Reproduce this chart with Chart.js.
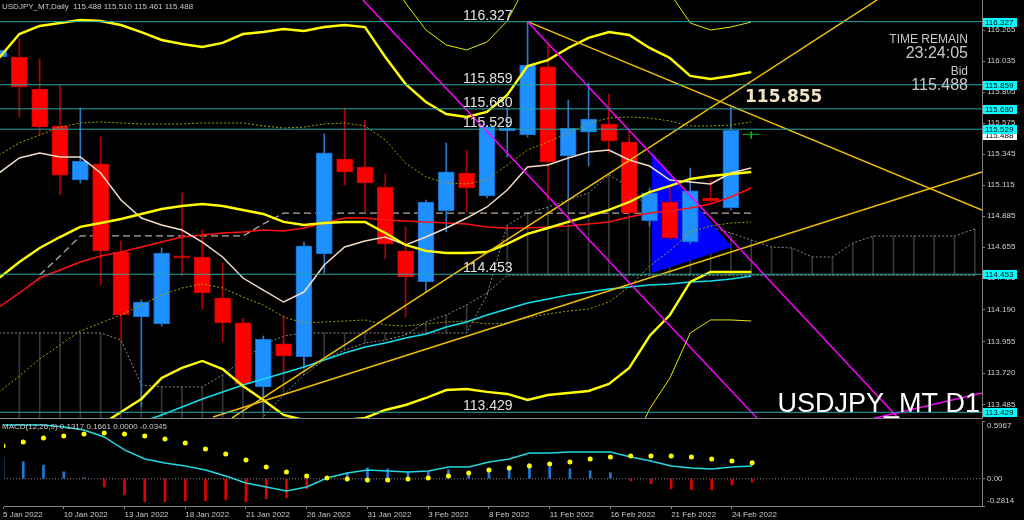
<!DOCTYPE html>
<html>
<head>
<meta charset="utf-8">
<script src="https://cdn.jsdelivr.net/npm/chart.js@4.4.1/dist/chart.umd.min.js"></script>
<style>
  html, body { margin: 0; padding: 0; background: #000; }
  body { width: 1024px; height: 520px; position: relative; overflow: hidden; }
  canvas { position: absolute; left: 0; }
  #main { top: 0; width: 1024px; height: 419px; }
  #macd { top: 415px; width: 1024px; height: 105px; }
</style>
</head>
<body>
<canvas id="main" width="1024" height="419"></canvas>
<canvas id="macd" width="1024" height="105"></canvas>
<script>
const FONT = '"Liberation Sans", Arial, sans-serif';

// bars, one per trading day (the last one is the just-opened 25 Feb bar)
const dates = ['5 Jan 2022','6 Jan 2022','7 Jan 2022','10 Jan 2022','11 Jan 2022','12 Jan 2022','13 Jan 2022','14 Jan 2022',
  '17 Jan 2022','18 Jan 2022','19 Jan 2022','20 Jan 2022','21 Jan 2022','24 Jan 2022','25 Jan 2022','26 Jan 2022',
  '27 Jan 2022','28 Jan 2022','31 Jan 2022','1 Feb 2022','2 Feb 2022','3 Feb 2022','4 Feb 2022','7 Feb 2022',
  '8 Feb 2022','9 Feb 2022','10 Feb 2022','11 Feb 2022','14 Feb 2022','15 Feb 2022','16 Feb 2022','17 Feb 2022',
  '18 Feb 2022','21 Feb 2022','22 Feb 2022','23 Feb 2022','24 Feb 2022','25 Feb 2022'];
const tickDates = ['5 Jan 2022','10 Jan 2022','13 Jan 2022','18 Jan 2022','21 Jan 2022','26 Jan 2022','31 Jan 2022',
  '3 Feb 2022','8 Feb 2022','11 Feb 2022','16 Feb 2022','21 Feb 2022','24 Feb 2022'];

const opens  = [116.065,116.065,115.827,115.553,115.152,115.271,114.618,114.136,114.084,114.589,114.581,114.277,114.092,113.617,113.936,113.839,114.603,115.308,115.249,115.100,114.626,114.396,114.922,115.204,115.034,115.516,115.486,115.991,115.330,115.508,115.568,115.434,114.848,114.989,114.692,115.019,114.945,115.488];
const highs  = [116.146,116.198,116.050,115.857,115.686,115.471,114.700,114.262,114.648,115.056,114.781,114.537,114.128,113.995,114.151,114.692,115.494,115.686,115.597,115.197,114.804,115.004,115.427,115.375,115.560,115.686,116.327,116.176,115.746,115.872,115.790,115.523,115.093,115.100,115.241,115.152,115.694,115.510];
const lows   = [116.042,115.620,115.486,115.041,115.130,114.373,113.965,113.470,114.069,114.440,114.195,113.951,113.624,113.429,113.728,113.765,114.462,115.115,114.915,114.566,114.136,114.321,114.767,114.915,115.019,115.323,115.471,115.004,115.004,115.256,115.353,114.893,114.811,114.707,114.678,114.982,114.930,115.461];
const closes = [116.117,115.842,115.546,115.189,115.293,114.626,114.151,114.247,114.611,114.574,114.314,114.092,113.639,113.973,113.847,114.663,115.353,115.212,115.130,114.678,114.433,114.989,115.212,115.093,115.546,115.538,116.005,115.286,115.538,115.605,115.442,114.908,115.056,114.722,115.071,114.997,115.520,115.488];

// moving averages
const ma5   = [115.204,115.316,115.353,115.323,115.323,115.204,115.004,114.870,114.818,114.781,114.692,114.581,114.425,114.336,114.247,114.321,114.522,114.655,114.700,114.729,114.670,114.729,114.796,114.870,114.952,115.078,115.249,115.264,115.316,115.360,115.375,115.301,115.256,115.152,115.137,115.123,115.204,115.241];
const maRed = [114.210,114.314,114.425,114.485,114.544,114.588,114.618,114.655,114.692,114.729,114.744,114.759,114.767,114.781,114.774,114.796,114.833,114.870,114.870,114.856,114.848,114.841,114.833,114.826,114.804,114.796,114.796,114.804,114.811,114.826,114.841,114.878,114.908,114.922,114.945,114.974,115.026,115.093];
const maLongStart = 7;
const maLong = [113.357,113.409,113.468,113.527,113.579,113.631,113.676,113.720,113.765,113.817,113.869,113.913,113.943,113.980,114.010,114.062,114.099,114.151,114.195,114.240,114.269,114.299,114.321,114.344,114.358,114.373,114.381,114.396,114.403,114.418,114.440];

// bollinger bands
const bbMid = [114.425,114.544,114.648,114.729,114.804,114.833,114.863,114.900,114.937,114.959,114.974,114.959,114.930,114.900,114.841,114.818,114.833,114.841,114.841,114.759,114.670,114.626,114.611,114.611,114.618,114.678,114.752,114.796,114.841,114.885,114.930,114.989,115.063,115.108,115.160,115.182,115.197,115.212];
const bbUp1 = [115.338,115.427,115.486,115.545,115.575,115.583,115.575,115.568,115.568,115.568,115.575,115.575,115.575,115.553,115.538,115.545,115.568,115.575,115.553,115.449,115.278,115.175,115.130,115.123,115.152,115.264,115.375,115.434,115.501,115.575,115.612,115.620,115.612,115.590,115.553,115.553,115.560,115.583];
const bbLo1 = [113.580,113.698,113.824,113.928,114.032,114.091,114.151,114.225,114.299,114.351,114.381,114.351,114.284,114.225,114.136,114.091,114.099,114.106,114.114,114.077,114.069,114.084,114.099,114.106,114.084,114.091,114.129,114.158,114.180,114.195,114.247,114.359,114.514,114.626,114.767,114.811,114.833,114.841];
const bbUp2 = [116.057,116.235,116.295,116.317,116.339,116.332,116.302,116.250,116.191,116.161,116.139,116.169,116.235,116.250,116.272,116.258,116.287,116.302,116.287,116.065,115.864,115.731,115.642,115.620,115.657,115.783,115.998,116.042,116.132,116.206,116.250,116.228,116.132,116.057,115.924,115.902,115.924,115.953];
const bbLo2 = [null,null,null,null,113.268,113.335,113.431,113.528,113.683,113.758,113.810,113.750,113.624,113.520,113.409,113.372,113.372,113.372,113.387,113.446,113.483,113.535,113.594,113.602,113.580,113.565,113.520,113.557,113.572,113.587,113.639,113.758,113.995,114.151,114.396,114.470,114.470,114.470];
const bbUp3 = [null,null,null,null,null,null,null,null,null,null,null,null,null,null,null,null,null,null,117.007,116.718,116.465,116.265,116.154,116.117,116.176,116.332,116.621,116.666,116.777,116.866,116.910,116.844,116.666,116.540,116.317,116.265,116.287,116.324];
const bbLo3 = [null,null,null,null,null,null,null,null,null,null,null,null,null,null,null,null,null,null,null,null,null,null,null,null,null,null,null,null,null,null,112.949,113.134,113.453,113.683,114.017,114.114,114.114,114.106];

// ichimoku style lines, cloud runs into the future
const kijun = [null,null,114.448,114.588,114.737,114.737,114.737,114.737,114.737,114.737,114.737,114.737,114.737,114.826,114.907,114.907,114.907,114.907,114.907,114.907,114.907,114.907,114.907,114.907,114.907,114.907,114.907,114.907,114.907,114.907,114.907,114.907,114.907,114.907,114.907,114.907,114.907,114.907];
const spanA = [114.017,114.017,114.017,114.017,114.017,114.017,113.965,113.632,113.617,113.617,113.617,113.706,113.817,113.928,113.995,114.017,114.017,114.017,114.017,114.017,114.017,114.017,114.017,114.017,114.299,114.818,114.907,114.952,115.004,115.056,115.189,115.100,114.930,114.878,114.833,114.804,114.759,114.707,114.655,114.648,114.581,114.581,114.685,114.737,114.737,114.737,114.737,114.737,114.789];
const spanB = [113.224,113.224,113.224,113.224,113.224,113.224,113.224,113.224,113.224,113.224,113.224,113.224,113.224,113.394,113.557,113.706,113.817,113.891,113.943,113.965,114.002,114.099,114.151,114.225,114.314,114.445,114.445,114.445,114.445,114.445,114.445,114.445,114.445,114.445,114.445,114.445,114.445,114.445,114.445,114.445,114.445,114.445,114.445,114.445,114.445,114.445,114.445,114.445,114.445];

// drawn objects: horizontal levels, trend lines [bar, price, bar, price], filled triangle
const levels = [116.327, 115.859, 115.680, 115.529, 114.453, 113.429];
const trendMagenta = [[17.90, 116.488, 37.28, 113.387], [26, 116.327, 44.32, 113.372], [42.70, 113.372, 48.35, 113.572]];
const trendGold = [[11.46, 113.387, 43.19, 116.488], [10.53, 113.394, 48.35, 115.212], [26, 116.327, 48.35, 114.930]];
const triX = [32.12, 36.05];
const triTop = [115.353, 114.655];
const triBottom = [114.462, 114.655];
const priceTag = 115.855;
const timeRemain = '23:24:05';

// right axis
const yTicks = [116.265, 116.035, 115.805, 115.575, 115.345, 115.115, 114.885, 114.655, 114.425, 114.190, 113.955, 113.720, 113.485];

// MACD(12,26,9)
const macdMain = [0.556,0.556,0.556,0.535,0.504,0.432,0.298,0.205,0.163,0.132,0.091,0.029,-0.043,-0.085,-0.126,-0.085,0.008,0.060,0.091,0.081,0.070,0.081,0.122,0.122,0.174,0.205,0.267,0.267,0.277,0.277,0.277,0.225,0.184,0.132,0.112,0.101,0.122,0.1317];
const macdSignal = [0.339,0.380,0.421,0.442,0.463,0.473,0.463,0.442,0.411,0.370,0.308,0.256,0.194,0.122,0.070,0.029,0.008,-0.002,-0.012,-0.012,-0.002,0.008,0.029,0.060,0.091,0.112,0.132,0.153,0.174,0.205,0.225,0.236,0.236,0.236,0.225,0.205,0.184,0.1661];
const macdHist = [0.217,0.176,0.140,0.072,0.010,-0.083,-0.165,-0.238,-0.238,-0.227,-0.227,-0.217,-0.238,-0.207,-0.196,-0.103,0.003,0.062,0.114,0.103,0.072,0.072,0.093,0.072,0.103,0.124,0.155,0.124,0.103,0.083,0.062,-0.021,-0.052,-0.103,-0.114,-0.114,-0.062,-0.0345];
const macdTicks = [0.5967, 0, -0.2814];

const X_MIN = 0.049, X_MAX = 48.352;
const Y_MIN = 113.3866, Y_MAX = 116.4876;

const pts = (arr, from = 0) => arr.map((v, i) => v == null ? null : { x: i + from, y: v }).filter(Boolean);
const seg = (s) => [{ x: s[0], y: s[1] }, { x: s[2], y: s[3] }];
const line = (data, color, width, extra) => Object.assign({
  type: 'line', data, borderColor: color, borderWidth: width, pointRadius: 0, tension: 0, fill: false, clip: 0, order: 1
}, extra || {});

const dir = closes.map((c, i) => c > opens[i] ? 1 : c < opens[i] ? -1 : 0);
const bodyFill = dir.map(d => d > 0 ? '#1e90ff' : d < 0 ? '#ff0000' : '#00c000');
const bodyEdge = dir.map(d => d > 0 ? '#1668c4' : d < 0 ? '#d00000' : '#00c000');
const wickColor = dir.map(d => d > 0 ? '#2b78c8' : d < 0 ? '#b40000' : '#00c000');

const mainOverlay = {
  id: 'mainOverlay',
  afterDraw(chart) {
    const { ctx } = chart;
    const y = chart.scales.y;
    const last = closes.length - 1;
    ctx.save();
    ctx.textBaseline = 'alphabetic';
    ctx.textAlign = 'left';
    ctx.fillStyle = '#c8c8c8';
    ctx.font = '8px ' + FONT;
    ctx.fillText('USDJPY_MT,Daily  ' + [opens[last], highs[last], lows[last], closes[last]].map(v => v.toFixed(3)).join(' '), 2, 9);

    ctx.font = '14px ' + FONT;
    ctx.fillStyle = '#e2e2e2';
    levels.forEach(v => ctx.fillText(v.toFixed(3), 463, Math.round(y.getPixelForValue(v)) - 2));

    ctx.font = 'bold 17px "DejaVu Sans", sans-serif';
    ctx.fillStyle = '#f2e2c4';
    ctx.fillText(priceTag.toFixed(3), 745, 102);

    ctx.textAlign = 'right';
    ctx.fillStyle = '#c8c8c8';
    ctx.font = '12px ' + FONT; ctx.fillText('TIME REMAIN', 968, 43);
    ctx.font = '16px ' + FONT; ctx.fillText(timeRemain, 968, 58);
    ctx.font = '12px ' + FONT; ctx.fillText('Bid', 968, 75);
    ctx.font = '16px ' + FONT; ctx.fillText(closes[last].toFixed(3), 968, 90);

    ctx.fillStyle = '#ffffff';
    ctx.font = '27px ' + FONT;
    ctx.fillText('USDJPY_MT D1', 980, 412);

    // price boxes on the right axis
    ctx.textAlign = 'left';
    ctx.textBaseline = 'middle';
    ctx.font = '8px ' + FONT;
    const box = (v, bg) => {
      const py = Math.round(y.getPixelForValue(v));
      ctx.fillStyle = bg;
      ctx.fillRect(983, py - 4, 34, 9);
      ctx.fillStyle = '#000';
      ctx.fillText(v.toFixed(3), 985, py + 0.5);
    };
    box(closes[last], '#ffffff');
    levels.forEach(v => box(v, '#00ffff'));
    ctx.restore();
  }
};

const macdOverlay = {
  id: 'macdOverlay',
  afterDraw(chart) {
    const { ctx } = chart;
    const last = macdMain.length - 1;
    ctx.save();
    ctx.font = '8px ' + FONT;
    ctx.fillStyle = '#c8c8c8';
    ctx.textAlign = 'left';
    ctx.fillText('MACD(12,26,9) ' + [macdMain[last], macdSignal[last], 0, macdHist[last]].map(v => v.toFixed(4)).join(' '), 2, 14);
    ctx.restore();
  }
};

// top and bottom MACD labels sit inside the pane, as in the terminal
const macdLabel = (v) => {
  const txt = v === 0 ? '0.00' : v.toFixed(4);
  if (v === macdTicks[0]) return ['', txt];
  if (v === macdTicks[2]) return [txt, ''];
  return txt;
};

const common = {
  responsive: false,
  animation: false,
  devicePixelRatio: 1,
  events: [],
  plugins: { legend: { display: false }, tooltip: { enabled: false } }
};

const mainSets = [
  ...levels.map(v => line(seg([X_MIN, v, X_MAX, v]), '#26a6a6', 1, { order: 0 })),
  ...trendMagenta.map(s => line(seg(s), '#ff00ff', 1.5, { order: 0 })),
  ...trendGold.map(s => line(seg(s), '#f0c000', 1.5, { order: 0 })),
  line(pts(bbUp3), '#e6e600', 1),
  line(pts(bbLo3), '#e6e600', 1),
  line(pts(bbUp2), '#ffff00', 2.4),
  line(pts(bbLo2), '#ffff00', 2.4),
  line(pts(bbMid), '#ffff00', 2.4),
  line(pts(bbUp1), '#a3a300', 1, { borderDash: [2, 2] }),
  line(pts(bbLo1), '#a3a300', 1, { borderDash: [2, 2] }),
  line(pts(ma5), '#f2dcc8', 1.5),
  line(pts(maRed), '#ff1010', 1.5),
  line(pts(maLong, maLongStart), '#10e0f0', 1.5),
  {
    type: 'bar', order: 2, grouped: false, barThickness: 16, minBarLength: 1, borderWidth: 1, borderSkipped: false,
    data: opens.map((o, i) => ({ x: i, y: [Math.min(o, closes[i]), Math.max(o, closes[i])] })),
    backgroundColor: bodyFill, borderColor: bodyEdge
  },
  {
    type: 'bar', order: 3, grouped: false, barThickness: 1,
    data: lows.map((l, i) => ({ x: i, y: [l, highs[i]] })),
    backgroundColor: wickColor
  },
  line(triX.map((x, i) => ({ x, y: triTop[i] })), 'rgba(0,0,0,0)', 0, { order: 4, fill: '+1', backgroundColor: '#0000ff' }),
  line(triX.map((x, i) => ({ x, y: triBottom[i] })), 'rgba(0,0,0,0)', 0, { order: 4 }),
  line(pts(kijun), '#b4aaa0', 1.3, { order: 5, borderDash: [7, 4] }),
  line(pts(spanA), '#8c8c8c', 1, { order: 5, borderDash: [2, 2] }),
  line(pts(spanB), '#8c8c8c', 1, { order: 5, borderDash: [2, 2] }),
  {
    type: 'bar', order: 6, grouped: false, barThickness: 1,
    data: spanA.map((a, i) => ({ x: i, y: [Math.min(a, spanB[i]), Math.max(a, spanB[i])] })),
    backgroundColor: 'rgba(140,140,140,0.4)'
  }
];

new Chart(document.getElementById('main'), {
  type: 'line',
  data: { datasets: mainSets },
  options: Object.assign({}, common, {
    layout: { padding: { top: 0, right: 0, bottom: 1, left: 0 } },
    scales: {
      x: {
        type: 'linear', min: X_MIN, max: X_MAX, offset: false,
        ticks: { display: false }, grid: { display: false, offset: false },
        border: { color: '#808080', width: 1 },
        afterFit: s => { s.height = 0; s.paddingLeft = 0; s.paddingRight = 0; }
      },
      y: {
        type: 'linear', position: 'right', min: Y_MIN, max: Y_MAX,
        afterBuildTicks: s => { s.ticks = yTicks.map(v => ({ value: v })); },
        afterFit: s => { s.width = 42; s.paddingTop = 0; s.paddingBottom = 0; },
        ticks: { color: '#d0d0d0', font: { size: 8, family: FONT }, padding: 2, callback: v => v.toFixed(3) },
        grid: { drawOnChartArea: false, color: '#808080', tickLength: 3 },
        border: { color: '#808080' }
      }
    }
  }),
  plugins: [mainOverlay]
});

new Chart(document.getElementById('macd'), {
  type: 'line',
  data: {
    datasets: [
      line(pts(macdSignal), '#ffff00', 0, { order: 0, showLine: false, pointRadius: 2.5, pointBorderWidth: 0, pointBackgroundColor: '#ffff00' }),
      line(pts(macdMain), '#20d8e0', 1.5, { order: 1 }),
      {
        type: 'bar', order: 3, grouped: false, barThickness: 2,
        data: pts(macdHist),
        backgroundColor: macdHist.map(v => v >= 0 ? '#1f78d1' : '#e00000')
      },
      line(seg([X_MIN, 0, X_MAX, 0]), '#8a8a8a', 1, { order: 4, borderDash: [1, 2] })
    ]
  },
  options: Object.assign({}, common, {
    layout: { padding: { top: 6, right: 0, bottom: 0, left: 0 } },
    scales: {
      x: {
        type: 'linear', min: X_MIN, max: X_MAX, offset: false,
        afterBuildTicks: s => { s.ticks = tickDates.map(d => ({ value: dates.indexOf(d) })); },
        afterFit: s => { s.height = 14; s.paddingLeft = 0; s.paddingRight = 0; },
        ticks: {
          color: '#c8c8c8', font: { size: 8, family: FONT }, padding: 1, align: 'start',
          autoSkip: false, maxRotation: 0, callback: v => dates[v]
        },
        grid: { drawOnChartArea: false, color: '#808080', tickLength: 3, offset: false },
        border: { color: '#808080' }
      },
      y: {
        type: 'linear', position: 'right', min: macdTicks[2], max: macdTicks[0],
        afterBuildTicks: s => { s.ticks = macdTicks.map(v => ({ value: v })); },
        afterFit: s => { s.width = 42; s.paddingTop = 0; s.paddingBottom = 0; },
        ticks: { color: '#d0d0d0', font: { size: 8, family: FONT }, padding: 2, callback: macdLabel },
        grid: { drawOnChartArea: false, color: '#808080', tickLength: 3 },
        border: { color: '#808080' }
      }
    }
  }),
  plugins: [macdOverlay]
});
</script>
</body>
</html>
